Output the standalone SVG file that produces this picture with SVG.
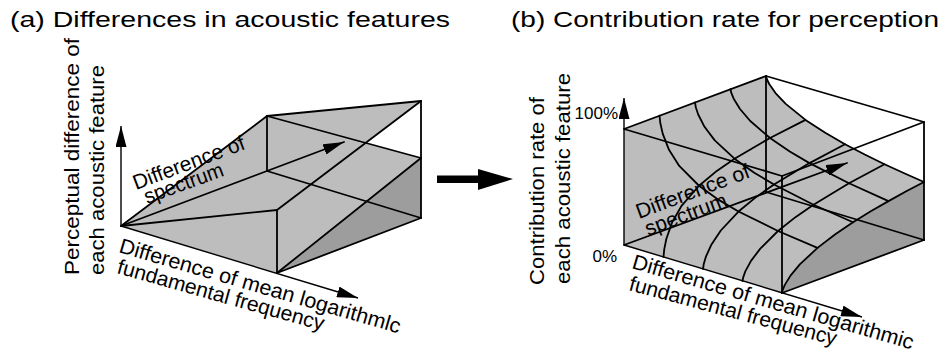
<svg xmlns="http://www.w3.org/2000/svg" width="950" height="361" viewBox="0 0 950 361">
<style>
text{font-family:"Liberation Sans",Arial,Helvetica,sans-serif;fill:#000}
.t{font-size:22px}
.l{font-size:21px}
.p{font-size:17px}
.e{fill:none;stroke:#000;stroke-width:1.8;stroke-linejoin:round;stroke-linecap:round}
.ax{fill:none;stroke:#000;stroke-width:1.4}
.lt{fill:#bdbdbd;stroke:none}
.dk{fill:#9d9d9d;stroke:none}
</style>
<defs>
<marker id="ah" markerUnits="userSpaceOnUse" markerWidth="21" markerHeight="11" refX="21" refY="5.5" orient="auto" viewBox="0 0 21 11">
<path d="M0,0 L21,5.5 L0,11 z" fill="#000"/>
</marker>
</defs>
<rect width="950" height="361" fill="#fff"/>

<g id="titles">
<text class="t" x="10" y="27" textLength="440" lengthAdjust="spacingAndGlyphs">(a) Differences in acoustic features</text>
<text class="t" x="511" y="27" textLength="428" lengthAdjust="spacingAndGlyphs">(b) Contribution rate for perception</text>
</g>

<g id="panel-a">
<polygon class="lt" points="121,226 267,116 421,101 365.6,142.9 421,158 421,218 277,273"/>
<polygon class="dk" points="277,273 421,158 421,218"/>
<g class="e">
<line x1="121" y1="226" x2="267" y2="116"/>
<line x1="121" y1="226" x2="277" y2="210"/>
<line x1="277" y1="273" x2="277" y2="210"/>
<line x1="267" y1="171" x2="267" y2="116"/>
<line x1="267" y1="116" x2="421" y2="101"/>
<line x1="421" y1="101" x2="421" y2="218"/>
<line x1="277" y1="210" x2="421" y2="101"/>
<line x1="267" y1="116" x2="421" y2="158"/>
<line x1="277" y1="273" x2="421" y2="158"/>
<line x1="267" y1="171" x2="421" y2="218"/>
<line x1="277" y1="273" x2="421" y2="218"/>
</g>
<line class="ax" x1="121" y1="226" x2="121" y2="126" marker-end="url(#ah)"/>
<line class="ax" x1="121" y1="226" x2="358" y2="298" marker-end="url(#ah)"/>
<line class="e" x1="121" y1="226" x2="344" y2="142" marker-end="url(#ah)"/>
<text class="l" transform="translate(79,275) rotate(-90)" textLength="237" lengthAdjust="spacingAndGlyphs">Perceptual difference of</text>
<text class="l" transform="translate(104,275) rotate(-90)" textLength="210" lengthAdjust="spacingAndGlyphs">each acoustic feature</text>
<text class="l" transform="translate(136,190) rotate(-20.5)" textLength="118" lengthAdjust="spacingAndGlyphs">Difference of</text>
<text class="l" transform="translate(147,204) rotate(-20)" textLength="83" lengthAdjust="spacingAndGlyphs">spectrum</text>
<text class="l" transform="translate(118,252) rotate(16.2)" textLength="292" lengthAdjust="spacingAndGlyphs">Difference of mean logarithmlc</text>
<text class="l" transform="translate(116,273) rotate(15.6)" textLength="214" lengthAdjust="spacingAndGlyphs">fundamental frequency</text>
</g>

<g id="connectors">
<rect x="437" y="175.5" width="46" height="7.5" fill="#000"/>
<polygon points="478,169 513,179 478,190" fill="#000"/>
</g>

<g id="panel-b">
<polygon class="lt" points="624,245 624,129 766,76 766.8,79 769.2,84 775.5,93.1 785.75,103.9 805.5,119.9 825.25,132.8 845,144.2 864.75,154.5 884.5,164.2 904.25,173.3 924,182 906.25,191.3 888.5,201.1 870.75,211.3 853,222.3 835.3,234.3 817.5,247.9 799.8,264.4 790.5,275.6 784.8,284.9 782.7,290 782,293"/>
<polygon class="dk" points="782,293 782.7,290 784.8,284.9 790.5,275.6 799.8,264.4 817.5,247.9 835.3,234.3 853,222.3 870.75,211.3 888.5,201.1 906.25,191.3 924,182 924,240"/>
<g class="e">
<polyline points="624,129 766,76 924,122 782,176 624,129"/>
<line x1="766" y1="192" x2="766" y2="76"/>
<line x1="782" y1="293" x2="782" y2="176"/>
<line x1="924" y1="240" x2="924" y2="122"/>
<line x1="782" y1="293" x2="924" y2="240"/>
<line x1="766" y1="192" x2="924" y2="240"/>
<polyline points="663.5,257 664.2,249.7 666.3,239 672,222.6 681.3,206.2 699,185.75 716.8,170.9 734.5,158.7 770,138 805.5,119.9"/>
<polyline points="703,269 703.7,264.3 705.8,256.9 711.5,244.4 720.8,230.5 738.5,211.55 756.3,196.9 774,184.5 809.5,163.1 845,144.2"/>
<polyline points="742.5,281 743.2,277.4 745.3,271.4 751,260.9 760.3,248.6 778,231 795.8,216.9 813.5,204.7 849,183.25 884.5,164.2"/>
<polyline points="782,293 782.7,290 784.8,284.9 790.5,275.6 799.8,264.4 817.5,247.9 835.3,234.3 853,222.3 870.75,211.3 888.5,201.1 906.25,191.3 924,182"/>
<polyline points="659.5,115.75 660.3,123 662.7,133.6 669,149.8 679.25,165.95 699,185.75 718.75,199.9 738.5,211.55 778,231 817.5,247.9"/>
<polyline points="695,102.5 695.8,107.2 698.2,114.5 704.5,126.8 714.75,140.4 734.5,158.7 754.25,172.7 774,184.5 813.5,204.7 853,222.3"/>
<polyline points="730.5,89.25 731.3,92.9 733.7,98.7 740,109 750.25,121 770,138 789.75,151.45 809.5,163.1 849,183.25 888.5,201.1"/>
<polyline points="766,76 766.8,79 769.2,84 775.5,93.1 785.75,103.9 805.5,119.9 825.25,132.8 845,144.2 864.75,154.5 884.5,164.2 904.25,173.3 924,182"/>
</g>
<line class="ax" x1="624" y1="245" x2="624" y2="98" marker-end="url(#ah)"/>
<line class="ax" x1="624" y1="245" x2="862" y2="317" marker-end="url(#ah)"/>
<line class="e" x1="624" y1="245" x2="847" y2="163" marker-end="url(#ah)"/>
<text class="p" x="618" y="119" text-anchor="end">100%</text>
<text class="p" x="617" y="262" text-anchor="end">0%</text>
<text class="l" transform="translate(544,285) rotate(-90)" textLength="188" lengthAdjust="spacingAndGlyphs">Contribution rate of</text>
<text class="l" transform="translate(570,284) rotate(-90)" textLength="211" lengthAdjust="spacingAndGlyphs">each acoustic feature</text>
<text class="l" transform="translate(639,219) rotate(-20.5)" textLength="120" lengthAdjust="spacingAndGlyphs">Difference of</text>
<text class="l" transform="translate(648,236) rotate(-20.5)" textLength="86" lengthAdjust="spacingAndGlyphs">spectrum</text>
<text class="l" transform="translate(631,268) rotate(16.2)" textLength="292" lengthAdjust="spacingAndGlyphs">Difference of mean logarithmic</text>
<text class="l" transform="translate(628,290) rotate(15)" textLength="214" lengthAdjust="spacingAndGlyphs">fundamental frequency</text>
</g>
</svg>
